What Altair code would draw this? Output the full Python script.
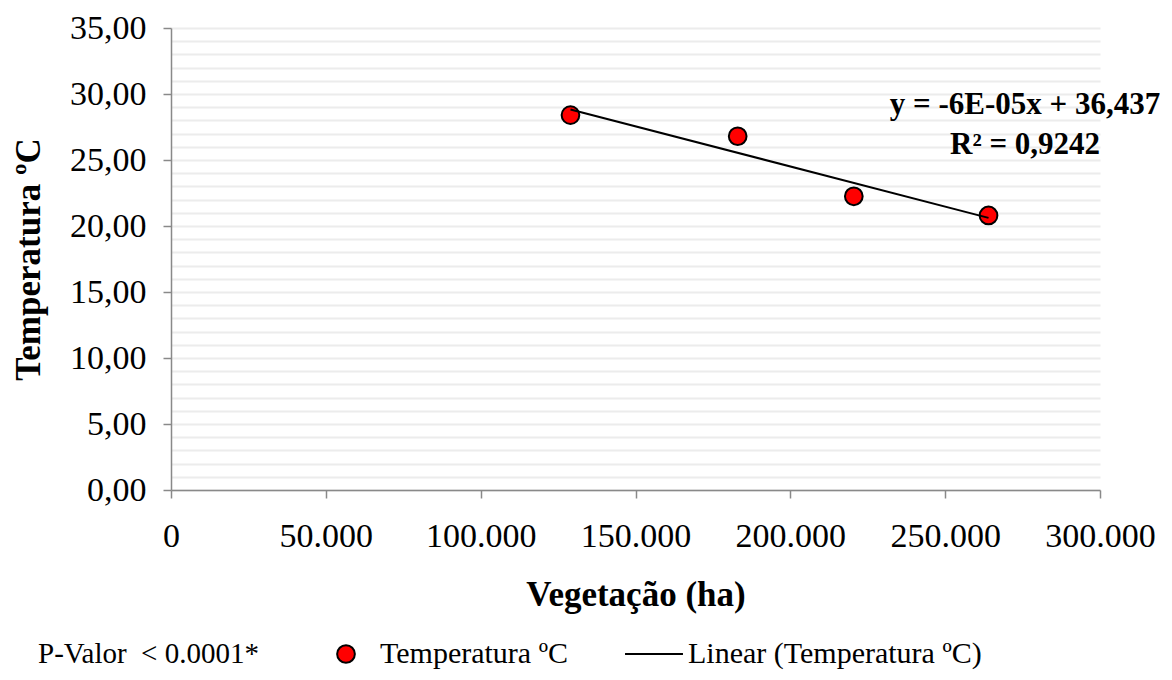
import altair as alt
import pandas as pd

# ---- data ----
vegetacao = [129000, 183000, 220500, 264000]
temperatura = [28.4, 26.8, 22.25, 20.8]
series = ["Temperatura ºC", "Linear (Temperatura ºC)"]
eq_text = ["y = -6E-05x  + 36,437", "R² = 0,9242"]
eq_x = [275800, 275800]
eq_y = [29.15, 26.1]
x_ticks = [0, 50000, 100000, 150000, 200000, 250000, 300000]
y_ticks = list(range(0, 36))

FONT = "Liberation Serif"

pts = pd.DataFrame({"veg": vegetacao, "temp": temperatura, "serie": series[0]})
ann = pd.DataFrame({"veg": eq_x, "temp": eq_y, "txt": eq_text})

x_enc = alt.X(
    "veg:Q",
    scale=alt.Scale(domain=[0, 300000], nice=False, zero=True),
    axis=alt.Axis(
        values=x_ticks,
        labelExpr="replace(format(datum.value, ','), ',', '.')",
        title="Vegetação (ha)",
        grid=False,
        labelFlush=False,
        labelOverlap=False,
        labelPadding=21,
        titlePadding=24,
    ),
)
y_enc = alt.Y(
    "temp:Q",
    scale=alt.Scale(domain=[0, 35], nice=False),
    axis=alt.Axis(
        values=y_ticks,
        tickCount=40,
        labelExpr="datum.value % 5 === 0 ? replace(format(datum.value, '.2f'), '.', ',') : ''",
        tickOpacity={"condition": {"test": "datum.value % 5 === 0", "value": 1}, "value": 0},
        title="Temperatura ºC",
        grid=True,
        gridColor="#ececec",
        gridWidth=2,
        labelOverlap=False,
        labelPadding=17,
        titlePadding=23,
    ),
)

SYM = 314
legend = alt.Legend(
    title="P-Valor\u00a0\u00a0<\u00a00.0001*",
    orient="none",
    legendX=-133,
    legendY=611,
    direction="horizontal",
    titleOrient="left",
    titleFont=FONT,
    titleFontSize=29,
    titleFontWeight="normal",
    titleColor="black",
    titlePadding=72,
    titleLimit=600,
    titleBaseline="middle",
    labelFont=FONT,
    labelFontSize=30,
    labelColor="black",
    labelLimit=600,
    labelOffset=19,
    columnPadding=53,
    symbolSize=SYM,
    symbolStrokeWidth=2,
)

points = alt.Chart(pts).mark_point(filled=True, strokeWidth=2, opacity=1, size=SYM).encode(
    x=x_enc,
    y=y_enc,
    shape=alt.Shape("serie:N", scale=alt.Scale(domain=series, range=["circle", "M-3.27,0H3.27"]), legend=legend),
    fill=alt.Fill("serie:N", scale=alt.Scale(domain=series, range=["#ff0000", "#000000"]), legend=legend),
    stroke=alt.Stroke("serie:N", scale=alt.Scale(domain=series, range=["#000000", "#000000"]), legend=legend),
)

trend = alt.Chart(pts).transform_regression("veg", "temp").mark_line(color="black", strokeWidth=2).encode(
    x="veg:Q", y="temp:Q"
)

text = alt.Chart(ann).mark_text(
    font=FONT, fontSize=31, fontWeight="bold", color="black", align="center", baseline="middle"
).encode(x="veg:Q", y="temp:Q", text="txt:N")

chart = (
    alt.layer(points, trend, text)
    .properties(
        width=929,
        height=462,
        autosize=alt.AutoSizeParams(type="none"),
        padding={"left": 163, "top": 20, "right": 60, "bottom": 182},
    )
    .configure_view(stroke=None)
    .configure_axis(
        labelFont=FONT,
        labelFontSize=34,
        labelColor="black",
        titleFont=FONT,
        titleFontSize=35,
        titleFontWeight="bold",
        titleColor="black",
        domainColor="#898989",
        domainWidth=1.5,
        tickColor="#898989",
        tickWidth=1.5,
        tickSize=8,
    )
)

chart.save("out.html", embed_options={"renderer": "svg", "actions": False})
